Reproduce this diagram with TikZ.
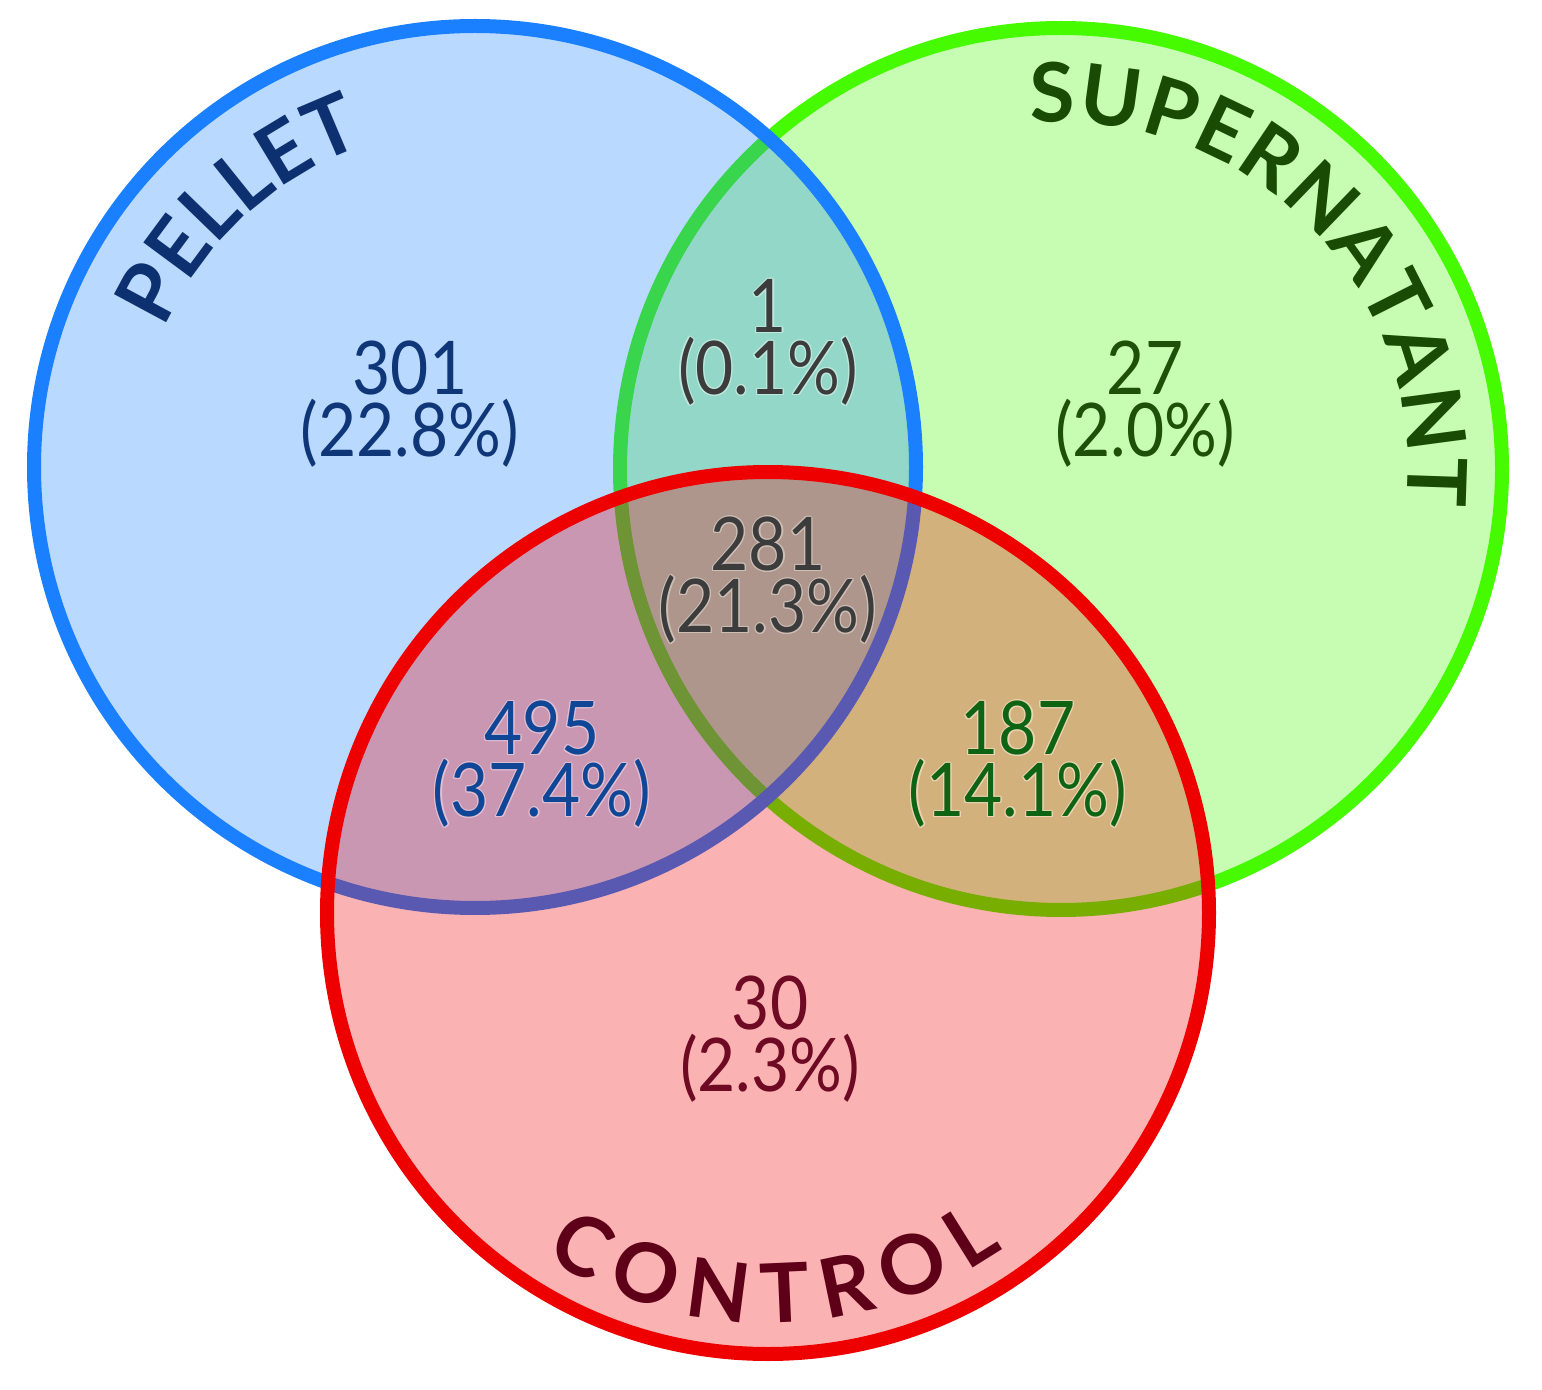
\documentclass[tikz,border=0pt]{standalone}
\usepackage{fontspec}
\setmainfont{Lato}
\newfontfamily\numfont[FakeStretch=0.89]{Lato}
\usepackage{contour}
\contourlength{0.55pt}
\usetikzlibrary{decorations.text}
\definecolor{pelStroke}{RGB}{26,128,255}
\definecolor{supStroke}{RGB}{70,250,0}
\definecolor{conStroke}{RGB}{238,0,0}
\definecolor{pelText}{RGB}{12,48,112}
\definecolor{supText}{RGB}{25,75,5}
\definecolor{conText}{RGB}{95,0,25}
\definecolor{numPel}{RGB}{15,55,120}
\definecolor{numSup}{RGB}{30,80,10}
\definecolor{numGray}{RGB}{60,60,60}
\definecolor{numPC}{RGB}{15,70,150}
\definecolor{numSC}{RGB}{15,100,20}
\definecolor{numCon}{RGB}{110,10,35}
\definecolor{glowPS}{RGB}{190,232,220}
\definecolor{glowAll}{RGB}{205,190,182}
\definecolor{glowPC}{RGB}{225,190,210}
\definecolor{glowSC}{RGB}{235,212,180}
\newcommand\lblfont{\fontsize{41}{41}\selectfont\bfseries}
\begin{document}
\begin{tikzpicture}[x=0.5pt,y=0.5pt,
  ring/.style={line width=7pt, fill opacity=0.3, draw opacity=1},
  num/.style={font=\numfont\fontsize{37}{31}\selectfont, align=center, inner sep=0pt}]
\useasboundingbox (0,0) rectangle (1542,1389);
\coordinate (B) at (475,922);
\coordinate (G) at (1061,920);
\coordinate (R) at (768,476);
% circles
\draw[ring, draw=supStroke, fill=supStroke] (G) circle[radius=220.5pt];
\draw[ring, draw=pelStroke, fill=pelStroke] (B) circle[radius=220.5pt];
\draw[ring, draw=conStroke, fill=conStroke] (R) circle[radius=220.5pt];
% curved labels
\path[decorate, decoration={text along path, text align={fit to path}, text color=pelText,
  text={|\lblfont|PELLET}}]
  ([shift={(156:170pt)}]B) arc[start angle=156, end angle=109, radius=170pt];
\path[decorate, decoration={text along path, text align={fit to path}, text color=supText,
  text={|\lblfont|SUPERNATANT}}]
  ([shift={(95:173.5pt)}]G) arc[start angle=95, end angle=-6, radius=173.5pt];
\path[decorate, decoration={text along path, text align={fit to path}, text color=conText,
  text={|\lblfont|CONTROL}}]
  ([shift={(237:205pt)}]R) arc[start angle=237, end angle=305, radius=205pt];
% counts
\node[num, text=numPel] (n301) at (410,985) {301\\(22.8\%)};
\node[num, text=numGray] (n1) at (768,1046) {\contour{glowPS}{1}\\\contour{glowPS}{(0.1\%)}};
\node[num, text=numSup] (n27) at (1145,985) {27\\(2.0\%)};
\node[num, text=numGray] (n281) at (768,808) {\contour{glowAll}{281}\\\contour{glowAll}{(21.3\%)}};
\node[num, text=numPC] (n495) at (542,624) {\contour{glowPC}{495}\\\contour{glowPC}{(37.4\%)}};
\node[num, text=numSC] (n187) at (1018,624) {\contour{glowSC}{187}\\\contour{glowSC}{(14.1\%)}};
\node[num, text=numCon] (n30) at (770,350) {30\\(2.3\%)};
\end{tikzpicture}
\end{document}
